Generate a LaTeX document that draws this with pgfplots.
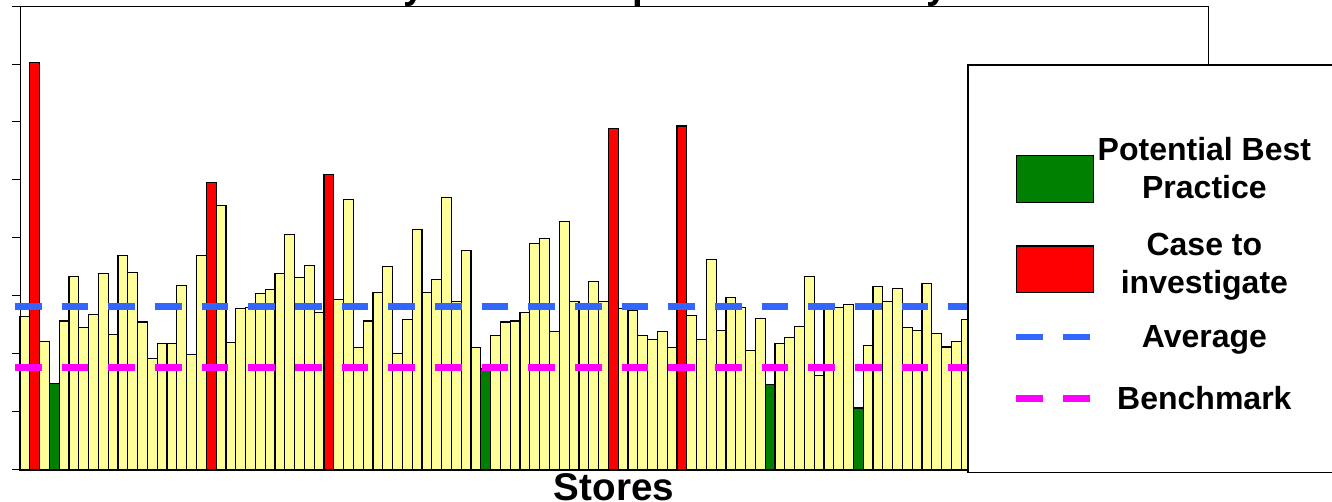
\documentclass[border=0pt]{standalone}
\usepackage{pgfplots}
\pgfplotsset{compat=1.18}
\usepackage{fontspec}
\setmainfont{Liberation Sans}
\definecolor{baryellow}{HTML}{FFFF99}
\definecolor{barred}{HTML}{FF0000}
\definecolor{bargreen}{HTML}{008000}
\definecolor{avgblue}{HTML}{3366FF}
\definecolor{benchmag}{HTML}{FF00FF}
\pgfplotsset{
  lgA/.style={legend image code/.code={\path (-9.25pt,-21.85pt) (38.5pt,33.45pt); \draw[##1] (0pt,-10.65pt) rectangle (38.5pt,12.65pt);}},
  lgB/.style={legend image code/.code={\path (-9.25pt,-14.05pt) (38.5pt,24.9pt); \draw[##1] (0pt,-8.5pt) rectangle (38.5pt,14.8pt);}},
  lgC/.style={legend image code/.code={\path (-9.25pt,-10.65pt) (38.5pt,20.15pt); \draw[##1] (0pt,5.3pt) -- (36.67pt,5.3pt);}},
  lgD/.style={legend image code/.code={\path (-9.25pt,-5.95pt) (38.5pt,16.75pt); \draw[##1] (0pt,5.3pt) -- (36.67pt,5.3pt);}},
}
\begin{document}
\begin{tikzpicture}
\useasboundingbox (0,0) rectangle (666pt,251pt);
\node[anchor=base west, inner sep=0pt, font=\fontsize{19.3}{23}\selectfont\bfseries] at (100.7pt,251.75pt) {Productivity Index Compared to Industry};
\begin{axis}[
  at={(10pt,16pt)}, anchor=south west,
  scale only axis, width=594pt, height=232pt,
  xmin=0.5, xmax=121.66, ymin=0, ymax=8,
  xtick=\empty, ytick={0,1,...,8}, yticklabels={},
  ytick pos=left,
  tick align=outside, major tick length=4pt,
  every tick/.style={black, line width=0.5pt},
  axis line style={black, line width=0.5pt},
  clip=false,
  xlabel={Stores},
  every axis x label/.style={at={(axis description cs:0.5,0)}, anchor=base, yshift=-15.15pt, font=\fontsize{19.3}{23}\selectfont\bfseries},
  legend cell align=center,
  legend style={at={(axis description cs:0.79798,0.87284)}, anchor=north west, draw=black, line width=0.7pt, fill=white, inner xsep=13.25pt, inner ysep=24.2pt, outer sep=0pt, row sep=0pt, column sep=0.65pt, font=\fontsize{16}{19}\selectfont\bfseries, nodes={inner sep=0pt, text depth=0pt, text height=0pt}, cells={anchor=center}},
]
% yellow bars
\addplot[ybar, bar width=1, bar shift=0pt, fill=baryellow, draw=black, line width=0.6pt, forget plot] coordinates {
(1,2.64) (3,2.22) (5,2.57) (6,3.34) (7,2.45) (8,2.68) (9,3.39) (10,2.34)
(11,3.70) (12,3.41) (13,2.55) (14,1.92) (15,2.18) (16,2.18) (17,3.18) (18,1.99) (19,3.70)
(21,4.56) (22,2.20) (23,2.78) (24,2.80) (25,3.04) (26,3.11) (27,3.39) (28,4.06) (29,3.32) (30,3.53)
(31,2.71) (33,2.94) (34,4.67) (35,2.11) (36,2.57) (37,3.06) (38,3.51) (39,2.01) (40,2.59)
(41,4.14) (42,3.06) (43,3.28) (44,4.70) (45,2.90) (46,3.79) (47,2.11) (49,2.32) (50,2.55)
(51,2.57) (52,2.71) (53,3.90) (54,3.99) (55,2.39) (56,4.28) (57,2.90) (58,2.84) (59,3.25) (60,2.90)
(62,2.78) (63,2.76) (64,2.32) (65,2.25) (66,2.39) (67,2.11) (69,2.66) (70,2.25)
(71,3.63) (72,2.41) (73,2.97) (74,2.80) (75,2.06) (76,2.61) (78,2.18) (79,2.29) (80,2.48)
(81,3.34) (82,1.63) (83,2.79) (84,2.80) (85,2.85) (87,2.14) (88,3.16) (89,2.91) (90,3.13)
(91,2.45) (92,2.41) (93,3.22) (94,2.36) (95,2.12) (96,2.22) (97,2.59)
};
% green bars
\addplot[ybar, bar width=1, bar shift=0pt, fill=bargreen, draw=black, line width=0.6pt, lgA] coordinates {
(4,1.49) (48,1.75) (77,1.47) (86,1.07)
};
\addlegendentry{{\smash{\begin{tabular}{@{}c@{}}Potential Best\\Practice\end{tabular}}}}
% red bars
\addplot[ybar, bar width=1, bar shift=0pt, fill=barred, draw=black, line width=0.6pt, lgB] coordinates {
(2,7.03) (20,4.95) (32,5.10) (61,5.89) (68,5.93)
};
\addlegendentry{{\smash{\begin{tabular}{@{}c@{}}Case to\\investigate\end{tabular}}}}
% average
\addplot[avgblue, line width=3.2pt, dash pattern=on 13.33pt off 10pt, no markers, lgC] coordinates {
(-0.01,2.816) (121.66,2.816)
};
\addlegendentry{{\smash{Average}}}
% benchmark
\addplot[benchmag, line width=3.2pt, dash pattern=on 13.33pt off 10pt, no markers, lgD] coordinates {
(-0.01,1.764) (121.66,1.764)
};
\addlegendentry{{\smash{Benchmark}}}
\end{axis}
\end{tikzpicture}
\end{document}
